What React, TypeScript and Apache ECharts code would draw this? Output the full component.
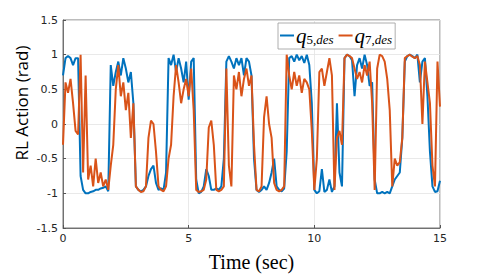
import React, { useEffect, useRef } from "react";
import * as echarts from "echarts";

const SAMPLE_STEP = 0.1; // seconds between samples
const xTicks = [0, 5, 10, 15];
const yTicks = [-1.5, -1, -0.5, 0, 0.5, 1, 1.5];

const q5des = [
  0.7, 0.95, 0.98, 0.95, 0.85, 0.95, 0.95, -0.75, -0.95, -1.0,
  -1.0, -0.98, -0.97, -0.95, -0.95, -0.93, -0.92, -0.9, -0.97, 0.85,
  0.55, 0.75, 0.9, 0.7, 0.95, 0.8, 0.6, 0.75, 0.3, -0.9,
  -0.95, -0.97, -0.95, -0.9, -0.75, -0.65, -0.6, -0.85, -0.95, -0.93,
  -0.95, -0.7, 0.95, 0.85, 1.0, 0.75, 0.95, 0.8, 0.6, 0.9,
  0.35, 0.9, 0.95, -0.8, -1.0, -0.98, -0.9, -0.65, -0.75, -0.95,
  -0.95, -0.93, -0.95, -0.9, -0.5, 0.9, 0.98, 0.9, 0.8, 0.95,
  0.85, 0.95, 0.7, 0.95, 0.9, 0.7, -0.5, -0.95, -0.98, -0.95,
  -0.9, -0.95, -0.85, -0.7, -0.5, -0.9, -0.95, -0.97, -0.93, -0.4,
  0.95, 0.98, 0.9, 1.0, 0.92, 0.98, 0.88, 1.0, 0.85, 0.3,
  -0.95, -1.0, -0.97, -0.65, -0.98, -0.95, -0.8, -0.98, -0.9, 0.3,
  -0.7, -0.9, 0.95, 1.0, 0.98, 0.92, 0.4, 0.85, 0.95, 0.8,
  1.0, 0.85, 0.55, 0.6, -0.8, -1.0, -1.0, -0.98, -1.0, -0.98,
  -1.0, -0.9, -0.8, -0.75, -0.7, -0.2, 0.9, 0.98, 1.0, 0.98,
  0.95, 1.0, 0.6, 0.9, 0.95, 0.4, -0.4, -0.9, -0.98, -0.97,
  -0.82,
];

const q7des = [
  -0.3, 0.6, 0.45, 0.65, 0.3, -0.1, -0.15, 1.0, -0.7, 0.7,
  -0.8, -0.6, -0.9, -0.5, -0.85, -0.7, -0.9, -0.8, -0.95, -0.6,
  -0.3, 0.5, 0.85, 0.4, 0.6, 0.2, 0.45, -0.2, 0.3, -0.9,
  -0.95, -0.98, -0.97, -0.9, -0.2, 0.05, 0.0, -0.4, -0.9, -0.95,
  -0.97, -0.9, -0.5, -0.3, 0.4, 0.85, 0.6, 0.3, 0.5, 0.65,
  0.4, 0.8, 0.2, -0.95, -0.98, -0.97, -0.95, -0.8, -0.05, 0.05,
  -0.3, -0.95, -0.97, -0.95, -0.9, 0.8, -0.6, -0.9, 0.7, 0.5,
  0.75, 0.4, 0.65, 0.8, 0.55, 0.7, -0.3, -0.95, -0.97, -0.9,
  0.1, 0.4, 0.0, -0.2, -0.85, -0.95, -0.97, -0.95, -0.9, 1.0,
  0.7, 0.5, 0.75, 0.55, 0.7, 0.45, 0.65, 0.6, 0.5, -0.1,
  -0.95, -0.5, 0.75, 0.8, 0.55, 0.75, 0.95, 0.7, -0.95, -0.2,
  -0.1, -0.3, 0.95, 1.0, 0.98, 0.95, 0.8, 0.65, 0.75, 0.6,
  0.85, 0.7, 0.9, 0.3, -0.95, 0.8, 1.0, 0.98, 0.9, 0.65,
  0.2, -0.9, -0.5, -0.6, -0.55, -0.2, 0.95, 0.98, 1.0, 0.97,
  0.95, 0.98, 0.85, 0.0, 0.9, 0.6, 0.3, -0.6, -0.9, 0.9,
  0.25,
];

const seriesNames = ["q5", "q7"];
const seriesColors = ["#0072BD", "#D95319"];
const yTitle = "RL Action (rad)";
const xTitle = "Time (sec)";

const toPairs = (vals: number[]) =>
  vals.map((v, i) => [Math.round(i * SAMPLE_STEP * 10) / 10, v]);

export default function App() {
  const ref = useRef<HTMLDivElement>(null);
  useEffect(() => {
    if (!ref.current) return;
    const chart = echarts.init(ref.current, undefined, { renderer: "svg" });
    const tickColor = "#262626";
    const frame = "#555555";
    chart.setOption({
      animation: false,
      backgroundColor: "#ffffff",
      grid: {
        left: 63,
        right: 46,
        top: 20,
        bottom: 44,
        show: true,
        borderColor: frame,
        borderWidth: 0.8,
      },
      graphic: [
        {
          type: "text",
          x: 21,
          y: 103,
          rotation: Math.PI / 2,
          style: {
            text: yTitle,
            fontFamily: "Open Sans",
            fontSize: 17,
            fill: "#000",
            textAlign: "center",
            textVerticalAlign: "middle",
          },
        },
      ],
      legend: {
        left: 278,
        top: 23,
        orient: "horizontal",
        backgroundColor: "#ffffff",
        borderColor: "#9a9a9a",
        borderWidth: 0.8,
        borderRadius: 0,
        padding: [2, 3, 3, 2],
        icon: "rect",
        itemWidth: 14,
        itemHeight: 2,
        itemGap: 5,
        data: seriesNames,
        formatter: (name: string) => `{q|q}{n|${name.slice(1)},}{s|des}`,
        textStyle: {
          padding: [0, 0, 0, -3],
          rich: {
            q: {
              fontFamily: "Liberation Serif",
              fontStyle: "italic",
              fontSize: 21,
              color: "#000",
              lineHeight: 21,
            },
            n: {
              fontFamily: "Liberation Serif",
              fontSize: 13,
              color: "#000",
              lineHeight: 13,
              verticalAlign: "bottom",
            },
            s: {
              fontFamily: "Liberation Serif",
              fontStyle: "italic",
              fontSize: 13,
              color: "#000",
              lineHeight: 13,
              verticalAlign: "bottom",
            },
          },
        },
      },
      xAxis: {
        type: "value",
        min: xTicks[0],
        max: xTicks[xTicks.length - 1],
        interval: 5,
        name: xTitle,
        nameLocation: "middle",
        nameGap: 24,
        nameTextStyle: {
          fontFamily: "Liberation Serif",
          fontSize: 20,
          color: "#000",
        },
        axisLine: { show: true, onZero: false, lineStyle: { color: frame, width: 0.8 } },
        axisTick: { show: true, inside: true, length: 3, lineStyle: { color: frame } },
        axisLabel: {
          margin: 5,
          fontFamily: "DejaVu Sans",
          fontSize: 11,
          color: tickColor,
        },
        splitLine: { show: true, lineStyle: { color: "#e3e3e3", width: 0.8 } },
      },
      yAxis: {
        type: "value",
        min: yTicks[0],
        max: yTicks[yTicks.length - 1],
        interval: 0.5,
        axisLine: { show: true, onZero: false, lineStyle: { color: frame, width: 0.8 } },
        axisTick: { show: true, inside: true, length: 3, lineStyle: { color: frame } },
        axisLabel: {
          margin: 5,
          fontFamily: "DejaVu Sans",
          fontSize: 11,
          color: tickColor,
          formatter: (v: number) => String(v),
        },
        splitLine: { show: true, lineStyle: { color: "#e3e3e3", width: 0.8 } },
      },
      series: [q5des, q7des].map((vals, k) => ({
        name: seriesNames[k],
        type: "line",
        data: toPairs(vals),
        showSymbol: false,
        symbol: "none",
        color: seriesColors[k],
        lineStyle: { width: 2, color: seriesColors[k] },
        z: 2 + k,
      })),
    });
    return () => chart.dispose();
  }, []);
  return (
    <div
      ref={ref}
      style={{ position: "fixed", left: 0, top: 0, width: 486, height: 277 }}
    />
  );
}
